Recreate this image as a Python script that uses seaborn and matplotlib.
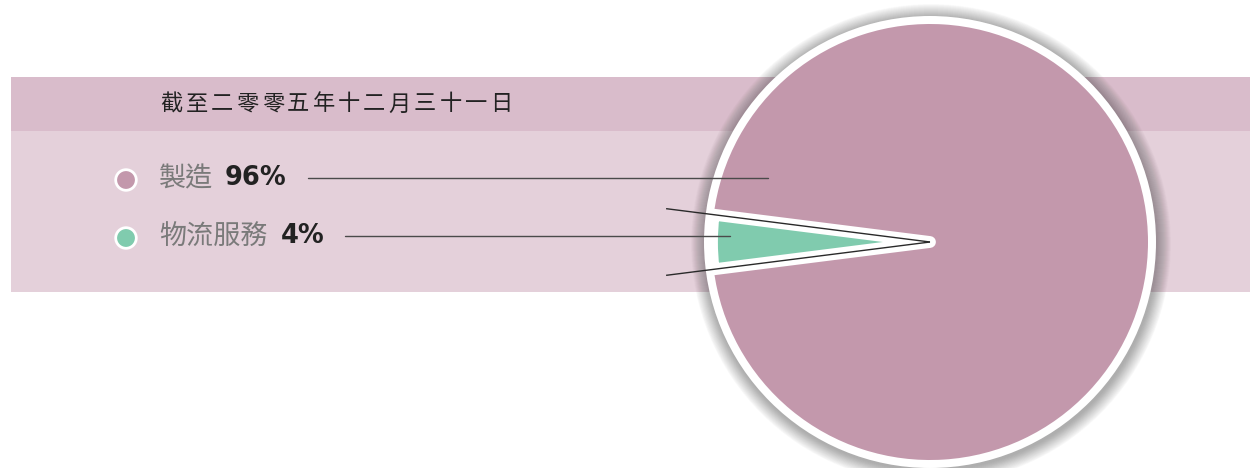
import matplotlib
matplotlib.use("Agg")
import matplotlib.pyplot as plt
import matplotlib.patches as mpatches
import numpy as np
import pandas as pd
import seaborn as sns

# 數據
header = "截至二零零五年十二月三十一日"
categories = ["製造", "物流服務"]
values = [96, 4]
pct_labels = ["96%", "4%"]
colors = ["#c398ac", "#80cbae"]

sns.set_theme(style="white")
plt.rcParams["font.family"] = ["Noto Sans CJK TC", "DejaVu Sans"]

W, H = 1250, 468
fig = plt.figure(figsize=(12.5, 4.68), dpi=100)
ax = fig.add_axes([0, 0, 1, 1])


def py(y):
    # pixel row (top-down) -> data y
    return H - y


# 背景色帶
ax.add_patch(mpatches.Rectangle((11, py(131)), W - 11, 54, color="#d9bccb", zorder=0, lw=0))
ax.add_patch(mpatches.Rectangle((11, py(292)), W - 11, 161, color="#e4d0da", zorder=0, lw=0))

# 圓餅圖 + 陰影
cx, cy, r = 930, py(242), 218
for i in np.arange(14, 0, -0.5):
    ax.add_patch(mpatches.Circle((cx + 1, cy - 2), r + 8 + i, color="#3a3a3a",
                                 alpha=0.014, lw=0, zorder=1))
ax.add_patch(mpatches.Circle((cx, cy), r + 8, color="white", lw=0, zorder=2))

start = 180 - values[1] / sum(values) * 360 / 2 - values[0] / sum(values) * 360
wedges, _ = ax.pie(values, colors=colors, center=(cx, cy), radius=r,
                   startangle=start, counterclock=True, frame=True,
                   wedgeprops=dict(linewidth=0, edgecolor="white"))
for w in wedges:
    w.set_zorder(3)
wedges[1].set_linewidth(8.5)
wedges[1].set_joinstyle("round")
wedges[1].set_zorder(4)

# 綠色扇形邊線
for th in (wedges[1].theta1, wedges[1].theta2):
    t = np.deg2rad(th)
    ax.plot([cx, cx + 266 * np.cos(t)], [cy, cy + 266 * np.sin(t)],
            color="#2a2a2a", lw=1.0, zorder=5, solid_capstyle="butt")

# 標題
for i, ch in enumerate(header):
    ax.text(160 + i * 25.4, py(104), ch, fontsize=16, color="#222222",
            ha="left", va="center", zorder=6)

# 圖例
leg = pd.DataFrame({"x": [126, 126], "y": [py(180), py(238)], "cat": categories})
sns.scatterplot(data=leg, x="x", y="y", hue="cat", palette=colors, s=220,
                edgecolor="white", linewidth=2, legend=False, ax=ax, zorder=6)

label_y = [179, 237]
pct_x = [225, 281]
line_x = [(308, 768), (345, 730)]
for cat, pct, ly, px_, (x0, x1) in zip(categories, pct_labels, label_y, pct_x, line_x):
    ax.text(159, py(ly), cat, fontsize=19.5, color="#7a7a7a",
            ha="left", va="center", zorder=6)
    ax.text(px_, py(ly - 1), pct, fontsize=18.5, color="#222222", fontweight="bold",
            family=["DejaVu Sans"], ha="left", va="center", zorder=6)
    ax.plot([x0, x1], [py(ly - 1), py(ly - 1)], color="#4a4a4a", lw=1.0, zorder=6)

ax.set_xlim(0, W)
ax.set_ylim(0, H)
ax.set_aspect("auto")
ax.axis("off")

fig.savefig("out.png", dpi=100, facecolor="white")
